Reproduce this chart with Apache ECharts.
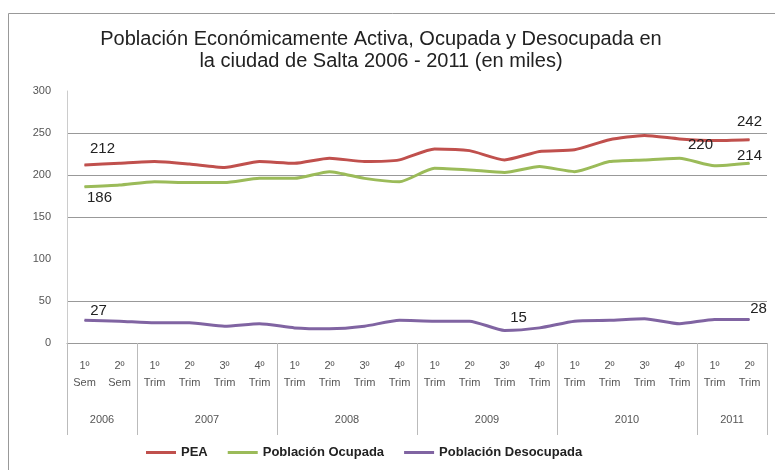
<!DOCTYPE html>
<html>
<head>
<meta charset="utf-8">
<script src="https://cdn.jsdelivr.net/npm/echarts@6/dist/echarts.min.js"></script>
<style>
html,body{margin:0;padding:0;background:#fff;}
#chart{width:775px;height:470px;}
</style>
</head>
<body>
<div id="chart"></div>
<script>
// periodos (eje x) y años
var categories = ['1º Sem','2º Sem',
    '1º Trim','2º Trim','3º Trim','4º Trim',
    '1º Trim','2º Trim','3º Trim','4º Trim',
    '1º Trim','2º Trim','3º Trim','4º Trim',
    '1º Trim','2º Trim','3º Trim','4º Trim',
    '1º Trim','2º Trim'];
var years = ['2006','2007','2008','2009','2010','2011'];
var yearSpans = [2,4,4,4,4,2];

// valores en miles
var pea = [212,214,216,213,209,216,214,220,216,218,231,229,218,228,230,242,247,243,241,242];
var ocupada = [186,188,192,191,191,196,196,204,196,192,208,206,203,210,204,216,218,220,211,214];
var desocupada = [27,26,24,24,20,23,18,17,20,27,26,26,15,18,26,27,29,23,28,28];

// etiquetas visibles: indice -> desplazamiento
var peaLabels = {0:{pos:'top',off:[18,-3]}, 19:{pos:'top',off:[0,-5]}};
var ocuLabels = {0:{pos:'bottom',off:[15,-2]}, 17:{pos:'top',off:[21,0]}, 19:{pos:'top',off:[0,6]}};
var desLabels = {0:{pos:'top',off:[14,4]}, 12:{pos:'top',off:[14,0]}, 19:{pos:'top',off:[9,2]}};

function buildData(values, labels){
    return values.map(function(v, i){
        var l = labels[i];
        if(!l) return v;
        return {value: v, label: {show: true, position: l.pos, offset: l.off,
            color: '#222', fontSize: 15, fontFamily: 'Liberation Sans'}};
    });
}

// bordes de grupos y centros de los años
var bounds = [0], centers = [];
yearSpans.forEach(function(s){
    var last = bounds[bounds.length-1];
    centers.push(last + s/2);
    bounds.push(last + s);
});

function lineSeries(name, values, labels, color){
    return {
        name: name, type: 'line', xAxisIndex: 0,
        data: buildData(values, labels),
        symbol: 'circle', symbolSize: 1, showSymbol: true,
        smooth: 0.2,
        lineStyle: {width: 3, color: color},
        itemStyle: {color: color}
    };
}

var chart = echarts.init(document.getElementById('chart'));
var option = {
    animation: false,
    textStyle: {fontFamily: 'Liberation Sans'},
    title: {
        text: 'Población Económicamente Activa, Ocupada y Desocupada en\nla ciudad de Salta 2006 - 2011 (en miles)',
        left: 376, top: 23, textAlign: 'center',
        textStyle: {fontSize: 20, fontWeight: 'normal', color: '#222', lineHeight: 22, fontFamily: 'Liberation Sans'}
    },
    graphic: [{
        type: 'rect', silent: true,
        shape: {x: 8.5, y: 13.5, width: 800, height: 470},
        style: {fill: 'none', stroke: '#999', lineWidth: 1}
    }],
    legend: {
        bottom: 6, left: 141,
        itemWidth: 30, itemHeight: 3, itemGap: 20,
        icon: 'rect',
        textStyle: {fontSize: 13, color: '#222', fontWeight: 'bold'},
        data: ['PEA','Población Ocupada','Población Desocupada']
    },
    grid: {left: 67, right: 8, top: 91, bottom: 127},
    xAxis: [{
        type: 'category',
        data: categories,
        boundaryGap: true,
        axisLine: {lineStyle: {color: '#999'}},
        axisTick: {show: false},
        axisLabel: {
            interval: 0, margin: 14, color: '#555', fontSize: 11, lineHeight: 17,
            formatter: function(v){ return v.replace(' ', '\n'); }
        }
    }, {
        type: 'value',
        min: 0, max: 20,
        position: 'bottom',
        axisLine: {show: false},
        splitLine: {show: false},
        axisTick: {show: true, customValues: bounds, length: 92, lineStyle: {color: '#bbb'}},
        axisLabel: {
            customValues: centers, margin: 71, color: '#555', fontSize: 11,
            formatter: function(v){ return years[centers.indexOf(v)]; }
        }
    }],
    yAxis: {
        type: 'value',
        min: 0, max: 300, interval: 50,
        axisLine: {show: true, lineStyle: {color: '#ccc'}},
        axisTick: {show: false},
        axisLabel: {color: '#555', fontSize: 11, margin: 16},
        splitLine: {
            showMaxLine: false,
            lineStyle: {color: ['#999','#999','rgba(0,0,0,0)','#999','#999','#999','rgba(0,0,0,0)']}
        }
    },
    series: [
        lineSeries('PEA', pea, peaLabels, '#C0504D'),
        lineSeries('Población Ocupada', ocupada, ocuLabels, '#9BBB59'),
        lineSeries('Población Desocupada', desocupada, desLabels, '#8064A2')
    ]
};
chart.setOption(option);
</script>
</body>
</html>
